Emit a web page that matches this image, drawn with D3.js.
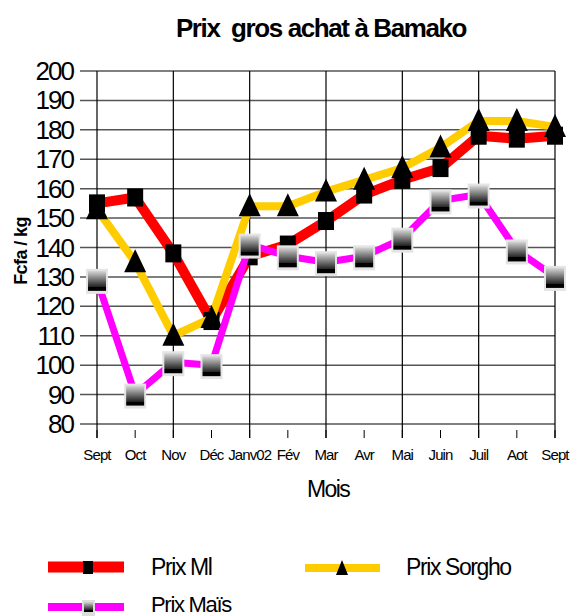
<!DOCTYPE html>
<html>
<head>
<meta charset="utf-8">
<script src="https://cdn.jsdelivr.net/npm/d3@7"></script>
<style>
body { margin: 0; background: #fff; }
text { font-family: "Liberation Sans", Arial, sans-serif; white-space: pre; }
</style>
</head>
<body>
<svg id="chart" width="571" height="616"></svg>
<script>
var mois = ["Sept","Oct","Nov","Déc","Janv02","Fév","Mar","Avr","Mai","Juin","Juil","Aot","Sept "]
var prixMil = [155,157,138,115,137,141,149,158,163,167,178,177,178]
var prixSorgho = [153,135,110,116,154,154,159,163,167,174,183,183,181]
var prixMais = [129,90,101,100,141,137,135,137,143,156,158,139,130]
var yTicks = [80,90,100,110,120,130,140,150,160,170,180,190,200]

var svg = d3.select("#chart")

var x = d3.scalePoint().domain(mois).range([97, 555])
var y = d3.scaleLinear().domain([80, 200]).range([424, 71])

// gradient for the mais marker
var grad = svg.append("defs").append("linearGradient").attr("id", "gmais").attr("x1", 0).attr("y1", 0).attr("x2", 0).attr("y2", 1)
grad.append("stop").attr("offset", "0%").attr("stop-color", "#d8d8d8")
grad.append("stop").attr("offset", "80%").attr("stop-color", "#222")
grad.append("stop").attr("offset", "80%").attr("stop-color", "#000")
grad.append("stop").attr("offset", "100%").attr("stop-color", "#000")

// horizontal grid
svg.append("g").selectAll("line").data(yTicks).enter().append("line")
    .attr("x1", 80).attr("x2", 555).attr("y1", d => y(d)).attr("y2", d => y(d))
    .attr("stroke", "#555").attr("stroke-width", 1.5)

// vertical grid every other month
svg.append("g").selectAll("line").data(mois.filter((d, i) => i % 2 == 0)).enter().append("line")
    .attr("x1", d => x(d)).attr("x2", d => x(d)).attr("y1", y(200)).attr("y2", 438)
    .attr("stroke", "#000").attr("stroke-width", 1.2)

// small ticks below
svg.append("g").selectAll("line").data(mois).enter().append("line")
    .attr("x1", d => x(d)).attr("x2", d => x(d)).attr("y1", 430).attr("y2", 438)
    .attr("stroke", "#000").attr("stroke-width", 1)

// y labels
svg.append("g").selectAll("text").data(yTicks).enter().append("text")
    .attr("x", 73).attr("y", d => y(d) + 9).attr("text-anchor", "end")
    .attr("font-size", "26px").attr("letter-spacing", "-2px").text(d => d)

// x labels
svg.append("g").selectAll("text").data(mois).enter().append("text")
    .attr("x", d => x(d)).attr("y", 460).attr("text-anchor", "middle")
    .attr("font-size", "15px").attr("letter-spacing", "-0.9px").text(d => d.trim())

svg.append("text").attr("x", 321).attr("y", 37).attr("text-anchor", "middle")
    .attr("font-size", "26px").attr("font-weight", "bold").attr("letter-spacing", "-1.4px").text("Prix  gros achat à Bamako")
svg.append("text").attr("x", 328).attr("y", 497).attr("text-anchor", "middle")
    .attr("font-size", "23px").attr("letter-spacing", "-1.6px").text("Mois")
svg.append("text").attr("transform", "translate(27,251) rotate(-90)").attr("text-anchor", "middle")
    .attr("font-size", "18px").attr("font-weight", "bold").attr("letter-spacing", "-0.6px").text("Fcfa / kg")

var line = d3.line().x((d, i) => x(mois[i])).y(d => y(d))

function squareMil(g, cx, cy) {
    g.append("rect").attr("x", cx - 8).attr("y", cy - 9).attr("width", 16).attr("height", 18).attr("fill", "#000")
}
function triangle(g, cx, cy) {
    g.append("path").attr("d", "M" + cx + "," + (cy - 13) + "L" + (cx + 11) + "," + (cy + 10) + "L" + (cx - 11) + "," + (cy + 10) + "Z").attr("fill", "#000")
}
function squareMais(g, cx, cy) {
    g.append("rect").attr("x", cx - 11).attr("y", cy - 11).attr("width", 22).attr("height", 25).attr("fill", "#e4e4e4")
    g.append("rect").attr("x", cx - 9).attr("y", cy - 9).attr("width", 18).attr("height", 20).attr("fill", "url(#gmais)")
}

var series = [
    {vals: prixMil, color: "#ff0000", w: 10, mark: squareMil},
    {vals: prixSorgho, color: "#ffcc00", w: 8, mark: triangle},
    {vals: prixMais, color: "#ff00ff", w: 7, mark: squareMais}
]

series.forEach(function (s) {
    svg.append("path").attr("d", line(s.vals)).attr("fill", "none")
        .attr("stroke", s.color).attr("stroke-width", s.w).attr("stroke-linejoin", "round")
    var g = svg.append("g")
    s.vals.forEach(function (v, i) { s.mark(g, x(mois[i]), y(v)) })
})

// legend
var leg = svg.append("g")
leg.append("line").attr("x1", 48).attr("x2", 124).attr("y1", 567).attr("y2", 567).attr("stroke", "#ff0000").attr("stroke-width", 11)
leg.append("rect").attr("x", 83).attr("y", 561).attr("width", 10).attr("height", 13).attr("fill", "#000")
leg.append("text").attr("x", 151).attr("y", 575).attr("font-size", "23px").attr("letter-spacing", "-1.4px").text("Prix Ml")

leg.append("line").attr("x1", 305).attr("x2", 380).attr("y1", 568).attr("y2", 568).attr("stroke", "#ffcc00").attr("stroke-width", 8)
leg.append("path").attr("d", "M342,560L348,575L336,575Z").attr("fill", "#000")
leg.append("text").attr("x", 406).attr("y", 575).attr("font-size", "23px").attr("letter-spacing", "-1.4px").text("Prix Sorgho")

leg.append("line").attr("x1", 48).attr("x2", 124).attr("y1", 607).attr("y2", 607).attr("stroke", "#ff00ff").attr("stroke-width", 8)
leg.append("rect").attr("x", 82).attr("y", 600).attr("width", 13).attr("height", 16).attr("fill", "#ddd")
leg.append("rect").attr("x", 84).attr("y", 602).attr("width", 9).attr("height", 10).attr("fill", "url(#gmais)")
leg.append("text").attr("x", 151).attr("y", 612).attr("font-size", "22px").attr("letter-spacing", "-1.3px").text("Prix Maïs")
</script>
</body>
</html>
